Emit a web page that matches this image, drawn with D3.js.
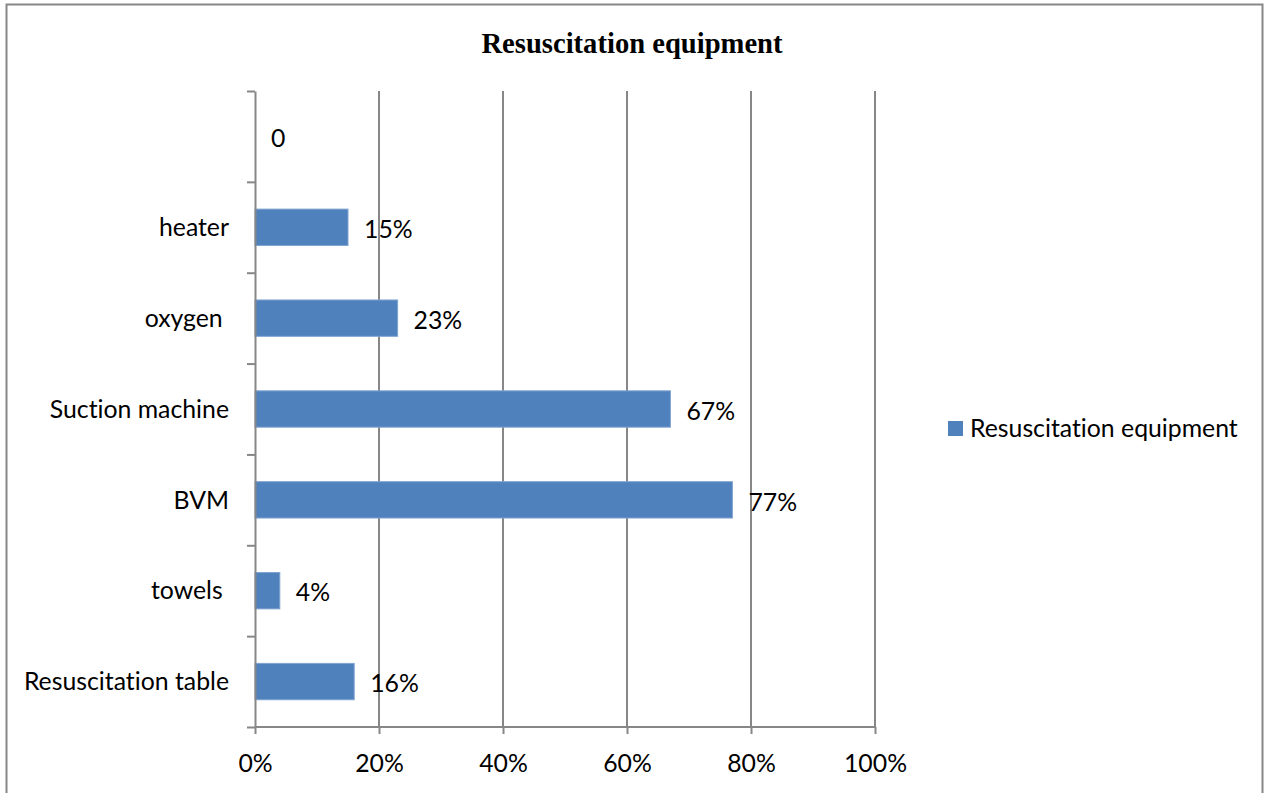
<!DOCTYPE html>
<html>
<head>
<meta charset="utf-8">
<script src="https://cdn.jsdelivr.net/npm/d3@7"></script>
<style>
  html, body { margin: 0; padding: 0; background: #fff; }
  svg { display: block; }
  text { font-family: Lato, "Open Sans", sans-serif; fill: #000; font-variant-ligatures: none; font-feature-settings: "liga" 0, "clig" 0; }
</style>
</head>
<body>
<svg id="chart" width="1266" height="793"></svg>
<script>
// Categories listed top to bottom (the top row has an empty name)
const categories = ["", "heater", "oxygen ", "Suction machine", "BVM", "towels ", "Resuscitation table"];
const values = [0, 0.15, 0.23, 0.67, 0.77, 0.04, 0.16];
const xTicks = [0, 0.2, 0.4, 0.6, 0.8, 1.0];
const seriesName = "Resuscitation equipment";
const chartTitle = "Resuscitation equipment";

const svg = d3.select("#chart");
const barColor = "#4F81BD";
const gridColor = "#878787";
const labelSize = "24.8px";

// Outer frame
svg.append("rect")
  .attr("x", 6.5).attr("y", 4.5)
  .attr("width", 1256).attr("height", 820)
  .attr("fill", "none").attr("stroke", gridColor).attr("stroke-width", 2);

// Title
svg.append("text")
  .attr("x", 632).attr("y", 53)
  .attr("text-anchor", "middle")
  .style("font-family", "'Liberation Serif', 'Times New Roman', serif")
  .style("font-weight", "bold")
  .style("font-size", "28.6px")
  .text(chartTitle);

const plot = { left: 255, right: 875, top: 91, bottom: 727 };

const x = d3.scaleLinear().domain([0, 1]).range([plot.left, plot.right]);
const y = d3.scaleBand().domain(categories)
  .range([plot.top, plot.bottom])
  .paddingInner(0.6).paddingOuter(0.3);
// Category boundaries for the tick marks on the vertical axis
const yEdges = d3.scaleLinear().domain([0, categories.length]).range([plot.top, plot.bottom]);

// Vertical gridlines
svg.append("g")
  .selectAll("line")
  .data(xTicks.filter(d => d > 0))
  .join("line")
  .attr("x1", d => x(d)).attr("x2", d => x(d))
  .attr("y1", plot.top).attr("y2", plot.bottom)
  .attr("stroke", gridColor).attr("stroke-width", 2);

// Bars
svg.append("g")
  .selectAll("rect")
  .data(categories.map((c, i) => ({ c, v: values[i] })))
  .join("rect")
  .attr("x", x(0))
  .attr("y", d => y(d.c))
  .attr("width", d => x(d.v) - x(0))
  .attr("height", y.bandwidth())
  .attr("fill", barColor)
  .attr("stroke", d => d.v > 0 ? "#7FA3D1" : "none")
  .attr("stroke-width", 1);

// Vertical axis with tick marks at category boundaries
const yAxis = svg.append("g")
  .attr("transform", `translate(${plot.left},0)`)
  .call(d3.axisLeft(yEdges).tickValues(d3.range(categories.length + 1)).tickSize(8).tickSizeOuter(0).tickFormat(""));
yAxis.selectAll("path, line").attr("stroke", gridColor).attr("stroke-width", 2);

// Category labels
svg.append("g")
  .selectAll("text")
  .data(categories)
  .join("text")
  .attr("x", 229)
  .attr("y", d => y(d) + y.bandwidth() / 2)
  .attr("dy", "0.35em")
  .attr("text-anchor", "end")
  .attr("xml:space", "preserve")
  .style("white-space", "pre")
  .style("font-size", labelSize)
  .text(d => d);

// Horizontal axis
const xAxis = svg.append("g")
  .attr("transform", `translate(0,${plot.bottom})`)
  .call(d3.axisBottom(x).tickValues(xTicks).tickSize(7).tickSizeOuter(0).tickFormat(d3.format(".0%")));
xAxis.selectAll("path, line").attr("stroke", gridColor).attr("stroke-width", 2);
xAxis.selectAll("text")
  .attr("y", 36).attr("dy", "0.35em")
  .style("font-size", labelSize)
  .style("font-family", "Lato, sans-serif")
  .attr("fill", "#000");
xAxis.select(".domain").attr("d", `M${plot.left},0H${plot.right}`);

// Value labels
svg.append("g")
  .selectAll("text")
  .data(categories.map((c, i) => ({ c, v: values[i] })))
  .join("text")
  .attr("x", d => x(d.v) + 16)
  .attr("y", d => y(d.c) + y.bandwidth() / 2 + 2)
  .attr("dy", "0.35em")
  .style("font-size", labelSize)
  .text(d => d.v === 0 ? "0" : d3.format(".0%")(d.v));

// Legend
const legend = svg.append("g").attr("transform", "translate(948,421)");
legend.append("rect").attr("width", 15).attr("height", 15).attr("fill", barColor);
legend.append("text")
  .attr("x", 22).attr("y", 7.5).attr("dy", "0.35em")
  .style("font-size", labelSize)
  .text(seriesName);
</script>
</body>
</html>
